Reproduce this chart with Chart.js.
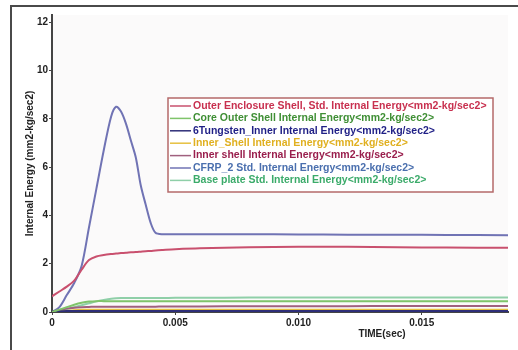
<!DOCTYPE html>
<html>
<head>
<meta charset="utf-8">
<script src="https://cdn.jsdelivr.net/npm/chart.js@4.4.1/dist/chart.umd.min.js"></script>
<style>
  html, body { margin: 0; padding: 0; background: #fff; }
  #frame { position: absolute; left: 10px; top: 5px; width: 520px; height: 360px;
           border-left: 2px solid #4a4a4a; border-top: 2px solid #4a4a4a; }
  #wrap { position: absolute; left: 0; top: 0; width: 518px; height: 350px; }
</style>
</head>
<body>
<div id="frame"></div>
<div id="wrap"><canvas id="chart"></canvas></div>
<script>
// Energia interna x tempo
var time = [0, 0.0003, 0.0006, 0.0009, 0.0012, 0.0015, 0.0018, 0.0021, 0.0024, 0.0026, 0.0028, 0.003, 0.0032, 0.0034,
            0.0036, 0.0038, 0.004, 0.0042, 0.0045, 0.005, 0.006, 0.008, 0.010, 0.012, 0.014, 0.016, 0.0185];

var outerShell = [0.65, 0.85, 1.05, 1.3, 1.75, 2.15, 2.3, 2.36, 2.4, 2.42, 2.44, 2.45, 2.47, 2.48,
                  2.5, 2.52, 2.53, 2.55, 2.57, 2.6, 2.64, 2.68, 2.7, 2.7, 2.68, 2.67, 2.66];
var coreOuter  = [0, 0.1, 0.2, 0.3, 0.38, 0.43, 0.45, 0.45, 0.45, 0.45, 0.45, 0.45, 0.45, 0.45,
                  0.45, 0.45, 0.45, 0.45, 0.45, 0.45, 0.45, 0.45, 0.45, 0.45, 0.45, 0.45, 0.45];
var tungsten   = [0, 0.01, 0.02, 0.02, 0.02, 0.02, 0.02, 0.02, 0.02, 0.02, 0.02, 0.02, 0.02, 0.02,
                  0.02, 0.02, 0.02, 0.02, 0.02, 0.02, 0.02, 0.02, 0.02, 0.02, 0.02, 0.02, 0.02];
var innerShell = [0, 0.02, 0.05, 0.08, 0.1, 0.1, 0.1, 0.1, 0.1, 0.1, 0.1, 0.1, 0.1, 0.1,
                  0.1, 0.1, 0.1, 0.1, 0.1, 0.1, 0.1, 0.1, 0.1, 0.1, 0.1, 0.1, 0.1];
var innerShell2 = [0, 0.08, 0.14, 0.18, 0.2, 0.21, 0.22, 0.22, 0.22, 0.22, 0.22, 0.22, 0.22, 0.22,
                   0.22, 0.22, 0.22, 0.22, 0.23, 0.23, 0.23, 0.24, 0.24, 0.24, 0.25, 0.25, 0.25];
var cfrp       = [0, 0.2, 0.7, 1.2, 1.9, 3.5, 5.1, 6.7, 8.1, 8.5, 8.3, 7.8, 7.1, 6.4,
                  5.25, 4.45, 3.7, 3.28, 3.22, 3.22, 3.22, 3.22, 3.21, 3.2, 3.2, 3.19, 3.18];
var basePlate  = [0, 0.05, 0.12, 0.2, 0.28, 0.36, 0.44, 0.5, 0.55, 0.57, 0.58, 0.58, 0.58, 0.58,
                  0.58, 0.58, 0.58, 0.58, 0.58, 0.59, 0.59, 0.6, 0.6, 0.6, 0.6, 0.6, 0.6];

var labels = [
    'Outer Enclosure Shell, Std. Internal Energy<mm2-kg/sec2>',
    'Core Outer Shell Internal Energy<mm2-kg/sec2>',
    '6Tungsten_Inner Internal Energy<mm2-kg/sec2>',
    'Inner_Shell Internal Energy<mm2-kg/sec2>',
    'Inner shell Internal Energy<mm2-kg/sec2>',
    'CFRP_2 Std. Internal Energy<mm2-kg/sec2>',
    'Base plate Std. Internal Energy<mm2-kg/sec2>'
];
var seriesValues = [outerShell, coreOuter, tungsten, innerShell, innerShell2, cfrp, basePlate];
var lineColors = ['#c9506e', '#7fc46a', '#2e2e78', '#e6c040', '#a0607e', '#7073b4', '#8fcfa8'];
var textColors = ['#c8304f', '#3f8f35', '#1f1f86', '#e0b020', '#9a1f4d', '#4a6fae', '#3bab6a'];
var lineWidths = [2, 2, 3, 1.5, 2, 2, 2];

var xTicks = [0, 0.005, 0.010, 0.015];

function pts(vals) {
    return time.map(function(t, i) { return { x: t, y: vals[i] }; });
}

var boxLegend = {
    id: 'boxLegend',
    beforeDraw: function(chart) {
        var a = chart.chartArea, ctx = chart.ctx;
        ctx.save();
        ctx.fillStyle = '#fbfafa';
        ctx.fillRect(a.left, a.top, a.right - a.left, a.bottom - a.top);
        ctx.restore();
    },
    afterDatasetsDraw: function(chart) {
        var ctx = chart.ctx;
        ctx.save();
        ctx.fillStyle = '#ffffff';
        ctx.fillRect(168, 98, 325, 94);
        ctx.strokeStyle = '#b56a6a';
        ctx.lineWidth = 1.5;
        ctx.strokeRect(168, 98, 325, 94);
        ctx.font = 'bold 10.5px "Liberation Sans", Arial, sans-serif';
        ctx.textBaseline = 'middle';
        chart.data.datasets.forEach(function(ds, i) {
            var y = 106 + i * 12.4;
            ctx.strokeStyle = lineColors[i];
            ctx.lineWidth = 1.5;
            ctx.beginPath();
            ctx.moveTo(170, y);
            ctx.lineTo(191, y);
            ctx.stroke();
            ctx.fillStyle = textColors[i];
            ctx.fillText(ds.label, 193, y);
        });
        // titulo do eixo x
        ctx.fillStyle = '#222';
        ctx.font = 'bold 10px "Liberation Sans", Arial, sans-serif';
        ctx.textAlign = 'center';
        ctx.fillText('TIME(sec)', 382, 334);
        ctx.restore();
    }
};

new Chart(document.getElementById('chart'), {
    type: 'line',
    data: {
        datasets: seriesValues.map(function(v, i) {
            return {
                label: labels[i],
                data: pts(v),
                borderColor: lineColors[i],
                backgroundColor: lineColors[i],
                borderWidth: lineWidths[i],
                pointRadius: 0,
                tension: 0.3,
                fill: false
            };
        })
    },
    options: {
        responsive: true,
        maintainAspectRatio: false,
        animation: false,
        layout: { padding: { left: 22, right: 10, top: 15, bottom: 18 } },
        plugins: { legend: { display: false }, tooltip: { enabled: false } },
        scales: {
            x: {
                type: 'linear',
                min: 0,
                max: 0.0185,
                afterFit: function(s) { s.height = 20; },
                afterBuildTicks: function(s) { s.ticks = xTicks.map(function(v) { return { value: v }; }); },
                ticks: {
                    padding: 2,
                    color: '#222',
                    font: { size: 10, weight: 'bold', family: 'Liberation Sans' },
                    maxRotation: 0,
                    callback: function(v) { return v === 0 ? '0' : v.toFixed(3); }
                },
                grid: { display: true, drawOnChartArea: false, tickLength: 3, color: '#444' },
                border: { display: true, color: '#444', width: 2 }
            },
            y: {
                min: 0,
                max: 12.3,
                afterFit: function(s) { s.width = 30; },
                ticks: {
                    stepSize: 2,
                    includeBounds: false,
                    padding: 1,
                    color: '#222',
                    font: { size: 10, weight: 'bold', family: 'Liberation Sans' }
                },
                title: {
                    display: true,
                    text: 'Internal Energy (mm2-kg/sec2)',
                    color: '#222',
                    padding: { top: 2, bottom: 0 },
                    font: { size: 10, weight: 'bold', family: 'Liberation Sans' }
                },
                grid: { display: true, drawOnChartArea: false, tickLength: 3, color: '#444' },
                border: { display: true, color: '#444', width: 2 }
            }
        }
    },
    plugins: [boxLegend]
});
</script>
</body>
</html>
